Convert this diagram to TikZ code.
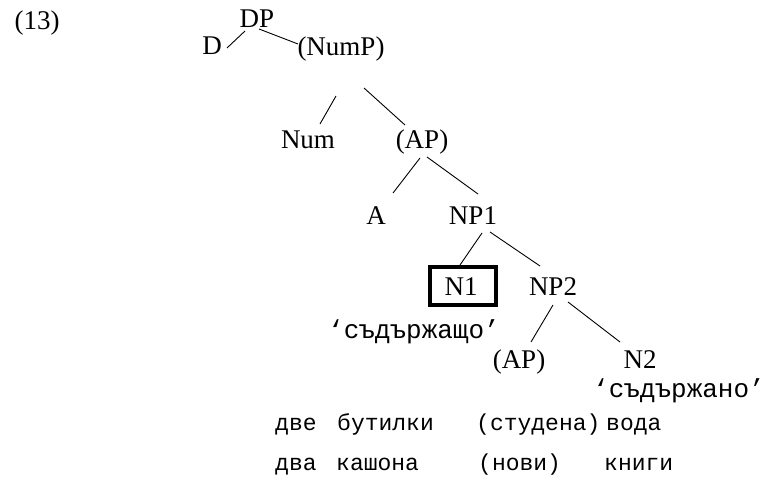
\documentclass[tikz,border=0pt]{standalone}
\usepackage{fontspec}
\setmainfont{Liberation Serif}
\newfontfamily\cyrmono{Liberation Mono}
\begin{document}
\begin{tikzpicture}[x=1pt,y=-1pt,
  lab/.style={font=\fontsize{27}{30}\selectfont, inner sep=0pt, anchor=base},
  cyr/.style={font=\cyrmono\fontsize{23}{26}\selectfont, inner sep=0pt, anchor=base west},
  gloss/.style={font=\cyrmono\fontsize{26}{29}\selectfont, inner sep=0pt, anchor=base},
  edge/.style={line width=0.9pt}]
\useasboundingbox (0,0) rectangle (765,497);
\node[lab] (ex) at (37,30) {(13)};
\node[lab] (DP) at (257,28) {DP};
\node[lab] (D) at (212,55) {D};
\node[lab] (NumP) at (341,56) {(NumP)};
\node[lab] (Num) at (308,149) {Num};
\node[lab] (AP1) at (422,149) {(AP)};
\node[lab] (A) at (376,224) {A};
\node[lab] (NP1) at (473,224) {NP1};
\node[lab] (N1) at (461,295) {N1};
\draw[line width=4pt] (430,267) rectangle (496,305);
\node[lab] (NP2) at (553,295) {NP2};
\node[gloss] (g1) at (414,338) {‘съдържащо’};
\node[lab] (AP2) at (519,368) {(AP)};
\node[lab] (N2) at (640,368) {N2};
\node[gloss] (g2) at (679,397) {‘съдържано’};
\node[cyr] (w11) at (275,430) {две};
\node[cyr] (w12) at (337,430) {бутилки};
\node[cyr] (w13) at (476,430) {(студена)};
\node[cyr] (w14) at (606,430) {вода};
\node[cyr] (w21) at (275,470) {два};
\node[cyr] (w22) at (336,470) {кашона};
\node[cyr] (w23) at (478,470) {(нови)};
\node[cyr] (w24) at (604,470) {книги};
% edge endpoints
\coordinate (e1a) at (245,31); \coordinate (e1b) at (227,48);
\coordinate (e2a) at (259,29); \coordinate (e2b) at (298,44);
\coordinate (e3a) at (336,96); \coordinate (e3b) at (320,124);
\coordinate (e4a) at (364,88); \coordinate (e4b) at (405,125);
\coordinate (e5a) at (420,158); \coordinate (e5b) at (393,193);
\coordinate (e6a) at (427,157); \coordinate (e6b) at (478,194);
\coordinate (e7a) at (482,233); \coordinate (e7b) at (460,265);
\coordinate (e8a) at (490,232); \coordinate (e8b) at (540,266);
\coordinate (e9a) at (553,305); \coordinate (e9b) at (531,342);
\coordinate (e10a) at (568,302); \coordinate (e10b) at (620,342);
\draw[edge] (e1a) -- (e1b);
\draw[edge] (e2a) -- (e2b);
\draw[edge] (e3a) -- (e3b);
\draw[edge] (e4a) -- (e4b);
\draw[edge] (e5a) -- (e5b);
\draw[edge] (e6a) -- (e6b);
\draw[edge] (e7a) -- (e7b);
\draw[edge] (e8a) -- (e8b);
\draw[edge] (e9a) -- (e9b);
\draw[edge] (e10a) -- (e10b);
\end{tikzpicture}
\end{document}
